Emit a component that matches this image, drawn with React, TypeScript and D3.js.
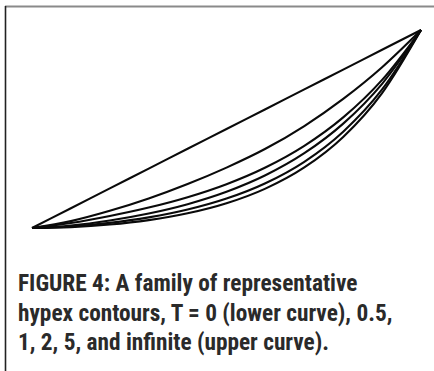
import React from "react";
import * as d3 from "d3";

// normalised position along the contour (0 = left end, 1 = right end)
const uValues = [0, 0.1, 0.2, 0.3, 0.4, 0.5, 0.6, 0.7, 0.8, 0.9, 1];
const tLabels = ["0", "0.5", "1", "2", "5", "infinite"];
const curveT0 = [0, 0.0044, 0.0173, 0.0397, 0.0741, 0.125, 0.199, 0.306, 0.46, 0.6815, 1];
const curveT05 = [0, 0.0078, 0.0259, 0.0536, 0.0932, 0.1487, 0.2262, 0.3345, 0.4865, 0.6996, 1];
const curveT1 = [0, 0.0129, 0.0381, 0.0733, 0.1204, 0.183, 0.2663, 0.3777, 0.527, 0.7283, 1];
const curveT2 = [0, 0.0254, 0.0608, 0.1033, 0.1557, 0.2214, 0.3057, 0.415, 0.5586, 0.748, 1];
const curveT5 = [0, 0.0347, 0.0866, 0.149, 0.222, 0.305, 0.4, 0.515, 0.652, 0.812, 1];
const curveTInf = [0, 0.1, 0.2, 0.3, 0.4, 0.5, 0.6, 0.7, 0.8, 0.9, 1];
const seriesList = [curveT0, curveT05, curveT1, curveT2, curveT5, curveTInf];

const captionLines = [
  "FIGURE 4: A family of representative",
  "hypex contours, T = 0 (lower curve), 0.5,",
  "1, 2, 5, and infinite (upper curve).",
];

export default function App() {
  const W = 434;
  const H = 371;
  const x = d3.scaleLinear().domain([0, 1]).range([32, 421]);
  const y = d3.scaleLinear().domain([0, 1]).range([228, 30]);
  const line = d3
    .line<number>()
    .x((_, i) => x(uValues[i]))
    .y((d) => y(d))
    .curve(d3.curveMonotoneX);

  return (
    <div style={{ position: "absolute", left: 0, top: 0 }}>
      <svg width={W} height={H} style={{ display: "block", background: "#fff" }}>
        <line x1={5} x2={W} y1={6.5} y2={6.5} stroke="#8a8a8a" strokeWidth={2} />
        <line x1={5.5} x2={5.5} y1={6} y2={H} stroke="#222" strokeWidth={1.6} />
        {seriesList.map((s, k) => (
          <path
            key={tLabels[k]}
            d={line(s) || ""}
            fill="none"
            stroke="#0a0a0a"
            strokeWidth={2.1}
            strokeLinejoin="round"
          />
        ))}
        {captionLines.map((t, i) => (
          <text
            key={i}
            x={18}
            y={291 + i * 29.5}
            fill="#2a2a2a"
            fontFamily="'Liberation Sans Narrow', 'Roboto Condensed', Arial, sans-serif"
            fontWeight="bold"
            fontSize={23.3}
          >
            {t}
          </text>
        ))}
      </svg>
    </div>
  );
}
